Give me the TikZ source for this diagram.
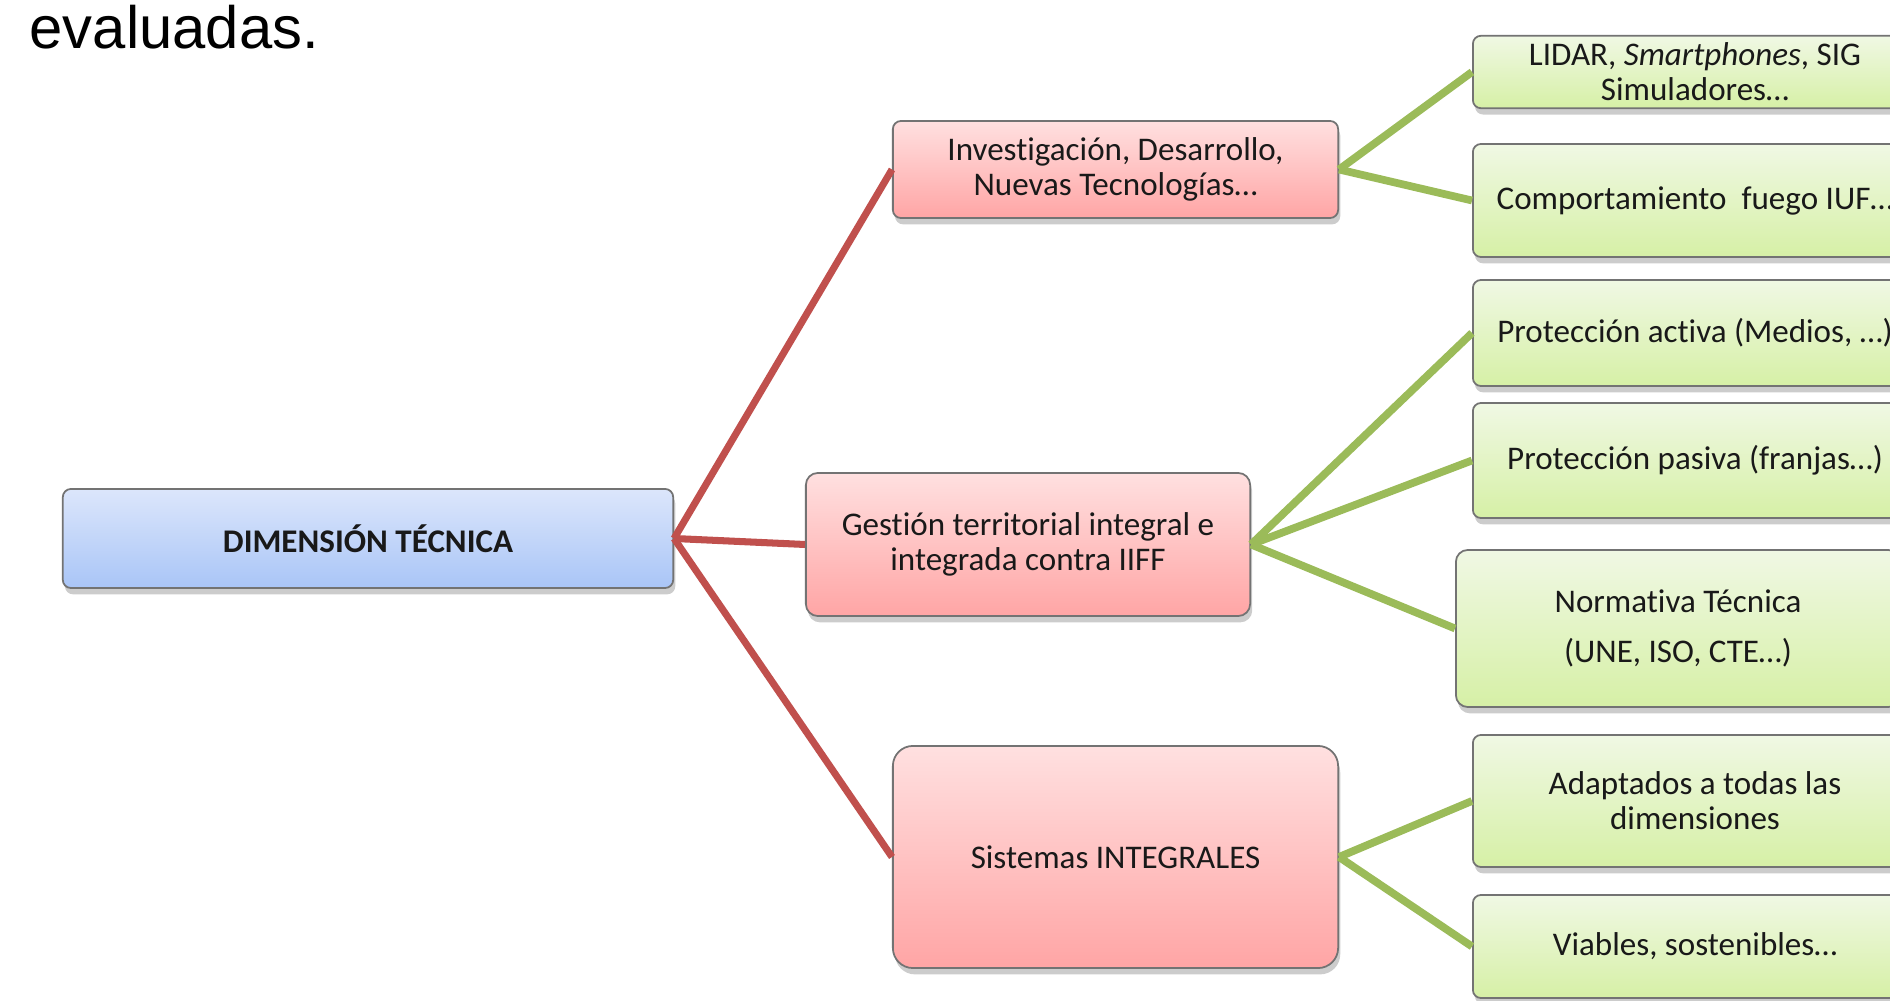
\documentclass[tikz,border=0pt]{standalone}
\usepackage{fontspec}
\setmainfont[Ligatures=NoCommon]{Carlito}
\newfontfamily\slidefont{Liberation Sans}
\usetikzlibrary{shadows}

\definecolor{linered}{HTML}{C0504D}
\definecolor{linegreen}{HTML}{9BBB59}
\definecolor{bluetop}{HTML}{DCE6FB}
\definecolor{bluebot}{HTML}{A9C5F7}
\definecolor{redtop}{HTML}{FFE0E0}
\definecolor{redbot}{HTML}{FFA5A5}
\definecolor{greentop}{HTML}{F0F8E4}
\definecolor{greenbot}{HTML}{D6F0A6}

\begin{document}
\begin{tikzpicture}[x=0.01cm, y=-0.01cm,
  box/.style={draw=black!55, line width=0.5pt, inner sep=2pt, align=center,
    font=\fontsize{9.4}{10}\selectfont, text=black!90,
    drop shadow={shadow xshift=0.6pt, shadow yshift=-1.8pt, opacity=0.4}},
  rootbox/.style={box, top color=bluetop, bottom color=bluebot, rounded corners=2.3pt},
  redbox/.style={box, top color=redtop, bottom color=redbot},
  greenbox/.style={box, top color=greentop, bottom color=greenbot,
    minimum width=4.44cm, rounded corners=2.3pt},
  redline/.style={draw=linered, line width=2pt},
  greenline/.style={draw=linegreen, line width=2.2pt}]

\useasboundingbox (0,0) rectangle (1890,1001);
\clip (0,0) rectangle (1890,1001);

% leftover line of the slide
\node[anchor=base west, inner sep=0pt, font=\slidefont\fontsize{17}{19}\selectfont] (slide) at (29,49) {evaluadas.};

% ==== Root ====
\node[rootbox, minimum width=6.1cm, minimum height=0.99cm,
      font=\bfseries\fontsize{9.4}{10}\selectfont] (root) at (368,538.5) {DIMENSIÓN TÉCNICA};

% ==== Second level (red) ====
\node[redbox, minimum width=4.45cm, minimum height=0.97cm, rounded corners=2.3pt] (inv) at (1115.5,169.5)
    {Investigación, Desarrollo,\\Nuevas Tecnologías…};
\node[redbox, minimum width=4.44cm, minimum height=1.43cm, rounded corners=3.4pt] (ges) at (1028,544.5)
    {Gestión territorial integral e\\integrada contra IIFF};
\node[redbox, minimum width=4.45cm, minimum height=2.22cm, rounded corners=5.7pt] (sis) at (1115.5,857)
    {Sistemas INTEGRALES};

% ==== Third level (green) ====
\node[greenbox, minimum height=0.72cm] (lidar) at (1695,72) {LIDAR, \textit{Smartphones}, SIG\\Simuladores…};
\node[greenbox, minimum height=1.13cm] (comp) at (1695,200.5) {Comportamiento\ \ fuego IUF…};
\node[greenbox, minimum height=1.06cm] (activa) at (1695,333) {Protección activa (Medios, …)};
\node[greenbox, minimum height=1.15cm] (pasiva) at (1695,460.5) {Protección pasiva (franjas…)};
\node[greenbox, minimum height=1.57cm, rounded corners=3.4pt] (norm) at (1678,628.5)
    {Normativa Técnica\\[4.2pt](UNE, ISO, CTE…)};
\node[greenbox, minimum height=1.32cm] (adapt) at (1695,801) {Adaptados a todas las\\dimensiones};
\node[greenbox, minimum height=1.03cm] (viab) at (1695,946.5) {Viables, sostenibles…};

% ==== Connectors ====
\foreach \kid in {inv, ges, sis}
    \draw[redline] (root.east) -- (\kid.west);

\foreach \kid in {lidar, comp}
    \draw[greenline] (inv.east) -- (\kid.west);
\foreach \kid in {activa, pasiva, norm}
    \draw[greenline] (ges.east) -- (\kid.west);
\foreach \kid in {adapt, viab}
    \draw[greenline] (sis.east) -- (\kid.west);

\end{tikzpicture}
\end{document}
